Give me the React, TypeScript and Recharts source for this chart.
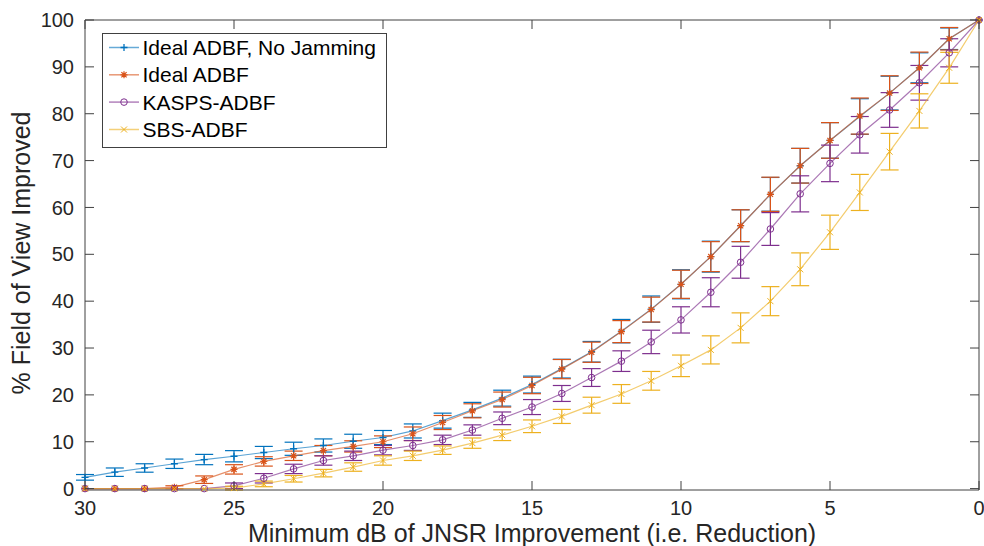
import { LineChart, Line, XAxis, YAxis, ErrorBar, ReferenceLine, Legend, Label } from "recharts";

// x positions (dB of JNSR improvement), read right-to-left on the plot
const DB = [30, 29, 28, 27, 26, 25, 24, 23, 22, 21, 20, 19, 18, 17, 16, 15, 14, 13, 12, 11, 10, 9, 8, 7, 6, 5, 4, 3, 2, 1, 0];

const NO_JAM = [2.4, 3.5, 4.4, 5.3, 6.2, 6.9, 7.7, 8.5, 9.2, 10.1, 10.9, 12.3, 14.5, 16.8, 19.3, 22.2, 25.6, 29.2, 33.6, 38.3, 43.6, 49.5, 56.1, 62.8, 68.9, 74.3, 79.4, 84.4, 89.8, 96.0, 100];
const NO_JAM_ERR = [0.6, 0.9, 0.9, 1.0, 1.1, 1.2, 1.3, 1.4, 1.4, 1.5, 1.5, 1.5, 1.6, 1.6, 1.7, 1.8, 2.0, 2.2, 2.5, 2.8, 3.1, 3.3, 3.4, 3.6, 3.7, 3.8, 3.8, 3.6, 3.2, 2.3, 0];

const IDEAL = [0, 0, 0, 0.3, 1.9, 4.1, 5.8, 7.0, 8.1, 9.0, 10.0, 11.7, 14.1, 16.6, 19.0, 22.0, 25.5, 29.1, 33.5, 38.2, 43.6, 49.5, 56.1, 62.8, 68.9, 74.3, 79.5, 84.4, 89.8, 96.0, 100];
const IDEAL_ERR = [0, 0, 0, 0.3, 0.8, 1.0, 1.0, 1.0, 1.1, 1.2, 1.25, 1.45, 1.5, 1.5, 1.6, 1.75, 2.05, 2.15, 2.35, 2.65, 3.0, 3.2, 3.4, 3.65, 3.7, 3.8, 3.85, 3.7, 3.35, 2.4, 0];

const KASPS = [0, 0, 0, 0, 0, 0.6, 2.2, 4.2, 6.0, 7.0, 8.2, 9.2, 10.4, 12.5, 15.0, 17.4, 20.3, 23.7, 27.2, 31.3, 36.0, 41.9, 48.3, 55.4, 62.9, 69.4, 75.5, 80.8, 86.6, 93.0, 100];
const KASPS_ERR = [0, 0, 0, 0, 0, 0.6, 1.0, 1.0, 1.0, 1.0, 1.0, 1.05, 1.0, 1.1, 1.35, 1.6, 1.7, 1.9, 2.2, 2.5, 2.8, 3.1, 3.4, 3.5, 3.85, 3.9, 3.9, 3.7, 3.7, 3.0, 0];

const SBS = [0, 0, 0, 0, 0, 0.1, 1.0, 2.1, 3.3, 4.6, 6.0, 7.0, 8.2, 9.7, 11.4, 13.3, 15.4, 17.8, 20.2, 23.0, 26.2, 29.6, 34.3, 40.0, 46.8, 54.7, 63.2, 71.9, 80.6, 89.8, 100];
const SBS_ERR = [0, 0, 0, 0, 0, 0.4, 0.6, 0.7, 0.8, 0.9, 1.0, 1.0, 0.9, 1.1, 1.15, 1.35, 1.5, 1.7, 2.0, 2.0, 2.3, 3.0, 3.2, 3.1, 3.5, 3.65, 3.85, 3.9, 3.65, 3.3, 0];

const X_TICKS = [30, 25, 20, 15, 10, 5, 0];
const Y_TICKS = [0, 10, 20, 30, 40, 50, 60, 70, 80, 90, 100];

const SERIES = [
  { key: "noJam", name: "Ideal ADBF, No Jamming", color: "#0072BD", mark: "plus" },
  { key: "ideal", name: "Ideal ADBF", color: "#D95319", mark: "star" },
  { key: "kasps", name: "KASPS-ADBF", color: "#7E2F8E", mark: "circle" },
  { key: "sbs", name: "SBS-ADBF", color: "#EDB120", mark: "cross" },
];

const data = DB.map((x, i) => ({
  x,
  noJam: NO_JAM[i], noJamErr: NO_JAM_ERR[i],
  ideal: IDEAL[i], idealErr: IDEAL_ERR[i],
  kasps: KASPS[i], kaspsErr: KASPS_ERR[i],
  sbs: SBS[i], sbsErr: SBS_ERR[i],
}));

const FONT = '"Liberation Sans", Arial, Helvetica, sans-serif';
const AXIS = "#404040";
const TEXT = "#262626";
const LEFT = 85;
const RIGHT = 979;
const TOP = 20;
const BOTTOM = 490;
const TICK = 9;

function Marker({ cx, cy, kind, color }: { cx: number; cy: number; kind: string; color: string }) {
  if (cx == null || cy == null) return null;
  const r = 3.5;
  if (kind === "circle") return <circle cx={cx} cy={cy} r={3.3} fill="none" stroke={color} strokeWidth={1} />;
  if (kind === "cross")
    return (
      <path d={`M${cx - 3} ${cy - 3}L${cx + 3} ${cy + 3}M${cx - 3} ${cy + 3}L${cx + 3} ${cy - 3}`} stroke={color} strokeWidth={1} />
    );
  if (kind === "star")
    return (
      <path
        d={`M${cx - r} ${cy}L${cx + r} ${cy}M${cx} ${cy - r}L${cx} ${cy + r}M${cx - 2.6} ${cy - 2.6}L${cx + 2.6} ${cy + 2.6}M${cx - 2.6} ${cy + 2.6}L${cx + 2.6} ${cy - 2.6}`}
        stroke={color}
        strokeWidth={1.2}
      />
    );
  return <path d={`M${cx - r} ${cy}L${cx + r} ${cy}M${cx} ${cy - r}L${cx} ${cy + r}`} stroke={color} strokeWidth={1.3} />;
}

function YTick({ y, payload }: any) {
  return (
    <g>
      <line x1={LEFT} x2={LEFT + TICK} y1={y} y2={y} stroke={AXIS} />
      <line x1={RIGHT - TICK} x2={RIGHT} y1={y} y2={y} stroke={AXIS} />
      <text x={74} y={y} dy="0.36em" textAnchor="end" fontSize={20} fontFamily={FONT} fill={TEXT}>
        {payload.value}
      </text>
    </g>
  );
}

function XTick({ x, payload }: any) {
  return (
    <g>
      <line x1={x} x2={x} y1={BOTTOM} y2={BOTTOM - TICK} stroke={AXIS} />
      <line x1={x} x2={x} y1={TOP} y2={TOP + TICK} stroke={AXIS} />
      <text x={x} y={515} textAnchor="middle" fontSize={20} fontFamily={FONT} fill={TEXT}>
        {payload.value}
      </text>
    </g>
  );
}

function LegendBox() {
  const rows = [55, 82.3, 109.6, 137];
  return (
    <svg width={286} height={116} style={{ display: "block" }}>
      <rect x={0.5} y={0.5} width={284} height={114} fill="#fff" stroke={AXIS} />
      {SERIES.map((s, i) => {
        const base = rows[i] - 33;
        const ly = base - 7.5;
        return (
          <g key={s.key}>
            <line x1={7} x2={37} y1={ly} y2={ly} stroke={s.color} strokeOpacity={0.6} strokeWidth={1.5} />
            <Marker cx={22} cy={ly} kind={s.mark} color={s.color} />
            <text x={40.5} y={base} fontSize={21} fontFamily={FONT} fill="#000">
              {s.name}
            </text>
          </g>
        );
      })}
    </svg>
  );
}

export default function App() {
  return (
    <div style={{ position: "absolute", left: 0, top: 0, background: "#fff" }}>
      <LineChart width={984} height={546} data={data} margin={{ top: TOP, right: 984 - RIGHT, bottom: 0, left: 0 }}>
        <XAxis
          dataKey="x"
          type="number"
          domain={[0, 30]}
          reversed
          ticks={X_TICKS}
          height={546 - BOTTOM}
          tickLine={false}
          axisLine={{ stroke: AXIS }}
          tick={<XTick />}
          interval={0}
        >
          <Label
            content={() => (
              <text x={(LEFT + RIGHT) / 2} y={542} textAnchor="middle" fontSize={25} fontFamily={FONT} fill={TEXT}>
                Minimum dB of JNSR Improvement (i.e. Reduction)
              </text>
            )}
          />
        </XAxis>
        <YAxis
          type="number"
          domain={[0, 100]}
          ticks={Y_TICKS}
          width={LEFT}
          tickLine={false}
          axisLine={{ stroke: AXIS }}
          tick={<YTick />}
          interval={0}
        >
          <Label
            content={() => (
              <text
                x={30}
                y={253}
                transform="rotate(-90 30 253)"
                textAnchor="middle"
                fontSize={25}
                fontFamily={FONT}
                fill={TEXT}
              >
                % Field of View Improved
              </text>
            )}
          />
        </YAxis>
        <ReferenceLine y={100} stroke={AXIS} />
        <ReferenceLine x={0} stroke={AXIS} />
        <Legend
          layout="vertical"
          align="center"
          verticalAlign="middle"
          content={() => <LegendBox />}
          wrapperStyle={{ left: 102, top: 33, width: 286, height: 116 }}
        />
        {SERIES.map((s) => (
          <Line
            key={s.key}
            dataKey={s.key}
            name={s.name}
            stroke={s.color}
            strokeOpacity={0.65}
            strokeWidth={1.2}
            isAnimationActive={false}
            dot={(p: any) => <Marker key={`${s.key}-${p.index}`} cx={p.cx} cy={p.cy} kind={s.mark} color={s.color} />}
            activeDot={false}
          >
            <ErrorBar dataKey={`${s.key}Err`} width={9} stroke={s.color} strokeWidth={1.2} direction="y" isAnimationActive={false} />
          </Line>
        ))}
      </LineChart>
    </div>
  );
}
